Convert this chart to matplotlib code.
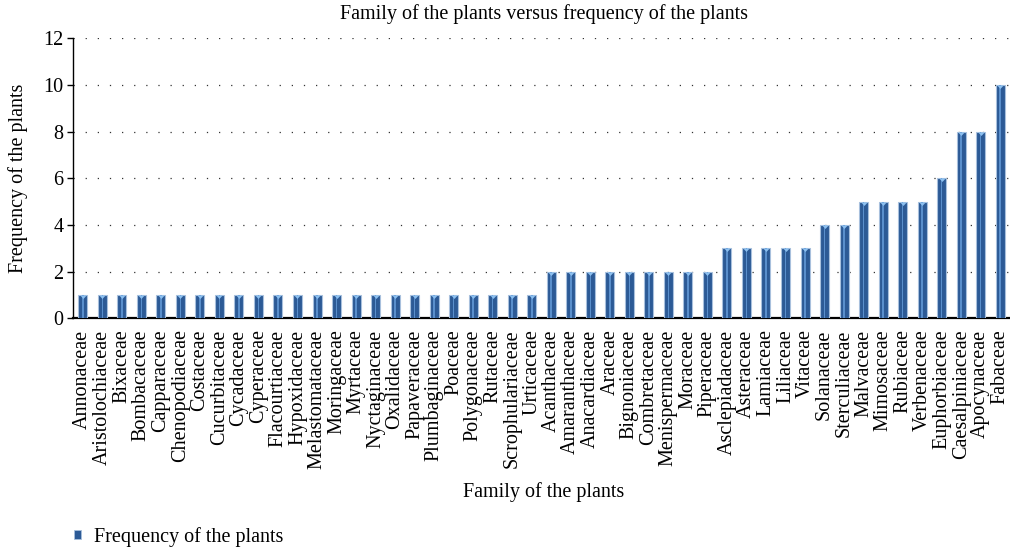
import matplotlib.pyplot as plt
from matplotlib.patches import Patch

families = [
    "Annonaceae", "Aristolochiaceae", "Bixaceae", "Bombacaceae", "Capparaceae",
    "Chenopodiaceae", "Costaceae", "Cucurbitaceae", "Cycadaceae", "Cyperaceae",
    "Flacourtiaceae", "Hypoxidaceae", "Melastomataceae", "Moringaceae", "Myrtaceae",
    "Nyctaginaceae", "Oxalidaceae", "Papaveraceae", "Plumbaginaceae", "Poaceae",
    "Polygonaceae", "Rutaceae", "Scrophulariaceae", "Urticaceae",
    "Acanthaceae", "Amaranthaceae", "Anacardiaceae", "Araceae", "Bignoniaceae",
    "Combretaceae", "Menispermaceae", "Moraceae", "Piperaceae",
    "Asclepiadaceae", "Asteraceae", "Lamiaceae", "Liliaceae", "Vitaceae",
    "Solanaceae", "Sterculiaceae",
    "Malvaceae", "Mimosaceae", "Rubiaceae", "Verbenaceae",
    "Euphorbiaceae", "Caesalpiniaceae", "Apocynaceae", "Fabaceae",
]
frequency = [1] * 24 + [2] * 9 + [3] * 5 + [4] * 2 + [5] * 4 + [6, 8, 8, 10]

plt.rcParams['font.family'] = ['Liberation Serif', 'DejaVu Serif']
plt.rcParams['font.size'] = 14.5

W, H = 1010, 552
fig = plt.figure(figsize=(W / 100, H / 100), dpi=100)
# plot area in pixel coords: left 73, right 1010, top 38, bottom 318
ax = fig.add_axes([73 / W, (H - 318.3) / H, (1010 - 73) / W, (318.3 - 38.3) / H])

x = range(len(families))
bar_blue = '#2C5A96'
ax.bar(x, frequency, width=0.46, color=bar_blue, edgecolor='#A8C0DD',
       linewidth=0.8, zorder=3)
# lighter stripe down the middle of each bar
ax.bar(x, frequency, width=0.08, color='#5A8FCC', linewidth=0, zorder=4)
# small highlight cap hanging just under the top of each bar
cap = [(-1, 0), (1, 0), (0, -1.1), (-1, 0)]
ax.plot(x, frequency, linestyle='none', marker=cap, markersize=5,
        color='#8CC0F0', markeredgewidth=0, zorder=5)

ax.set_xlim(-0.5, len(families) - 0.5)
ax.set_ylim(0, 12)
ax.set_yticks(range(0, 13, 2))
ax.set_xticks(list(x))
ax.set_xticklabels(families, rotation=90, va='top', ha='center')

ax.grid(axis='y', color='#333333', linewidth=0.9, linestyle=(0, (1, 8.7)), zorder=0)
ax.set_axisbelow(True)

for side in ['top', 'right']:
    ax.spines[side].set_visible(False)
ax.spines['left'].set_linewidth(1.0)
ax.spines['bottom'].set_linewidth(1.6)
ax.tick_params(axis='y', direction='out', length=4, width=1.0, pad=3)
ax.tick_params(axis='x', length=0, pad=8)

fig.text(543.5 / W, 1 - 14 / H, "Family of the plants versus frequency of the plants",
         ha='center', va='center')
fig.text(18.5 / W, 1 - 178.5 / H, "Frequency of the plants", rotation=90,
         ha='center', va='center')
fig.text(543.5 / W, 1 - 492 / H, "Family of the plants", ha='center', va='center')

handle = Patch(facecolor=bar_blue, edgecolor='#A8C0DD', linewidth=0.6)
fig.legend([handle], ["Frequency of the plants"], loc='center left',
           bbox_to_anchor=(74 / W, 1 - 537 / H), frameon=False, borderpad=0,
           borderaxespad=0, handlelength=0.35, handleheight=0.35,
           handletextpad=0.65)

fig.savefig('out.png', dpi=100)
